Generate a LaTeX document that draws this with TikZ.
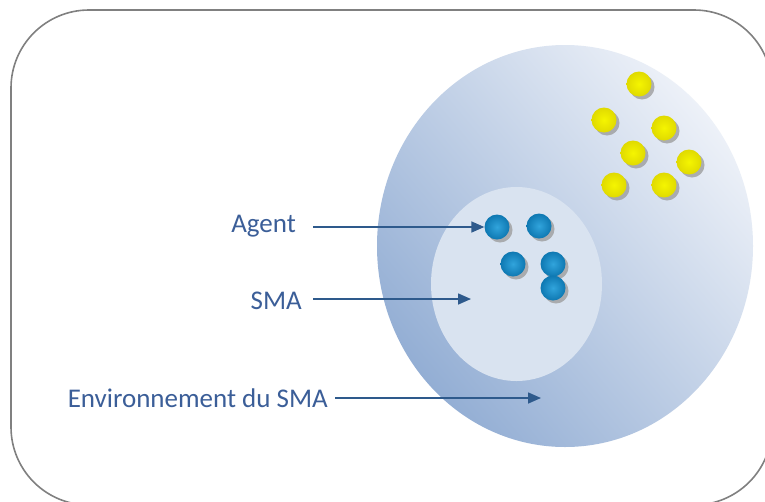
\documentclass[tikz,border=0pt]{standalone}
\usepackage{fontspec}
\setmainfont{Carlito}
\usetikzlibrary{arrows.meta}
\definecolor{txtblue}{HTML}{3B5E98}
\definecolor{arrblue}{HTML}{2E5A8C}
\definecolor{envlight}{HTML}{EDF1F8}
\definecolor{envdark}{HTML}{93AED4}
\definecolor{smafill}{HTML}{D9E3F0}
\definecolor{agblue}{HTML}{1A9AD8}
\definecolor{agdark}{HTML}{0E78B2}
\definecolor{ylw}{HTML}{F5F500}
\definecolor{ylwdark}{HTML}{E0DA00}
\begin{document}
\begin{tikzpicture}[x=1pt,y=-1pt,
  lbl/.style={inner sep=0pt,anchor=east,text=txtblue,font=\fontsize{27}{32}\selectfont},
  pointer/.style={draw=arrblue,line width=1.6pt,-{Triangle[length=13pt,width=11pt]}},
  agentball/.style={circle,minimum size=25pt,inner sep=0pt,inner color=agblue!90!white,outer color=agdark},
  otherball/.style={circle,minimum size=25pt,inner sep=0pt,inner color=ylw,outer color=ylwdark},
  ballshadow/.style={fill=black!40,circle,minimum size=25pt,inner sep=0pt,opacity=0.75}]
\useasboundingbox (0,0) rectangle (765,501);
\clip (0,0) rectangle (765,501);
\fill[white] (0,0) rectangle (765,501);
% frame
\draw[draw=black!50,line width=1.6pt,rounded corners=78pt] (11,10) rectangle (772,505);
% environment
\shade[top color=envlight,bottom color=envdark,shading angle=-50] (565,246) ellipse [x radius=188,y radius=201];
% SMA
\fill[smafill] (516.5,284) ellipse [x radius=85.5,y radius=97];
% shadows
\foreach \bx/\by [count=\i] in {497/227,539/226,513/264,553/264,553/288,639/84,604/120,664/128,633/153,689/162,614/185,664/185}{
  \node[ballshadow] (s\i) at (\bx+3,\by+3) {};
}
% agents
\node[agentball] (a1) at (497,227) {};
\node[agentball] (a2) at (539,226) {};
\node[agentball] (a3) at (513,264) {};
\node[agentball] (a4) at (553,264) {};
\node[agentball] (a5) at (553,288) {};
% other objects
\node[otherball] (o1) at (639,84) {};
\node[otherball] (o2) at (604,120) {};
\node[otherball] (o3) at (664,128) {};
\node[otherball] (o4) at (633,153) {};
\node[otherball] (o5) at (689,162) {};
\node[otherball] (o6) at (614,185) {};
\node[otherball] (o7) at (664,185) {};
% labels
\node[lbl] (lagent) at (296,226) {Agent};
\node[lbl] (lsma) at (302,301) {SMA};
\node[lbl] (lenv) at (328,398) {Environnement du SMA};
\coordinate (tsma) at (471,299);
\coordinate (tenv) at (541,398);
\draw[pointer] ([xshift=17pt]lagent.east |- a1.west) -- (a1.west);
\draw[pointer] ([xshift=11pt]lsma.east |- tsma) -- (tsma);
\draw[pointer] ([xshift=7pt]lenv.east |- tenv) -- (tenv);
\end{tikzpicture}
\end{document}
